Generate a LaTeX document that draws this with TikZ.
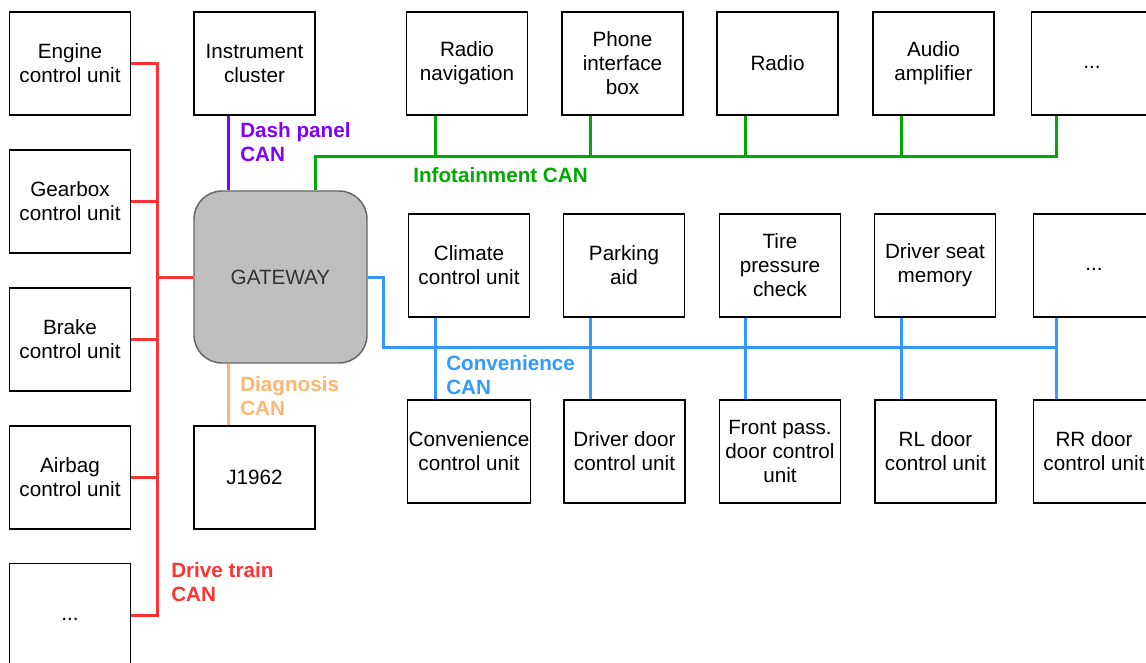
\documentclass[tikz,border=0pt]{standalone}
\usepackage{fontspec}
\setmainfont{Liberation Sans}
\usetikzlibrary{positioning}

\definecolor{drivered}{HTML}{FF3333}
\definecolor{dashviolet}{HTML}{7F00FF}
\definecolor{infogreen}{HTML}{00AA00}
\definecolor{convblue}{HTML}{3399FF}
\definecolor{diagorange}{HTML}{FFB570}
\definecolor{gwgrey}{HTML}{BFBFBF}

\begin{document}
\begin{tikzpicture}[x=0.75pt, y=-0.75pt, node distance={25.1pt},
    font=\fontsize{15.5}{18}\selectfont,
    ecu/.style = {draw, line width=1.1pt, minimum width=90.75pt, minimum height=77.25pt, align=center, inner sep=1pt},
    gate/.style = {draw=black!60, fill=gwgrey, line width=1.1pt, rounded corners=21pt, minimum width=129.75pt, minimum height=129pt, text=black!80},
    bus/.style = {line width=2.25pt},
    buslabel/.style = {font=\fontsize{15.5}{18}\selectfont\bfseries, align=left, anchor=west, inner sep=0pt}]
        \useasboundingbox (0,0) rectangle (1146,663);
        %% Drive train side
        \node[ecu] (engine) at (70,63.5) {Engine\\control unit};
        \node[ecu] (gearbox) [below=of engine] {Gearbox\\control unit};
        \node[ecu] (brake) [below=of gearbox] {Brake\\control unit};
        \node[ecu] (airbag) [below=of brake] {Airbag\\control unit};
        \node[ecu] (drivemore) [below=of airbag] {\strut...};
        %% Gateway and friends
        \node[ecu] (cluster) at (254.5,63.5) {Instrument\\cluster};
        \node[gate] (gateway) at (280.5,277) {GATEWAY};
        \node[ecu] (obd) at (254.5,477.5) {J1962};
        %% Infotainment row
        \node[ecu] (radionav) at (467,63.5) {Radio\\navigation};
        \node[ecu] (phonebox) at (622.5,63.5) {Phone\\interface\\box};
        \node[ecu] (radio) at (777.5,63.5) {Radio};
        \node[ecu] (amp) at (933.5,63.5) {Audio\\amplifier};
        \node[ecu] (infomore) at (1092,63.5) {\strut...};
        %% Convenience rows
        \node[ecu] (climate) at (469,265.5) {Climate\\control unit};
        \node[ecu] (parking) at (624,265.5) {Parking\\aid};
        \node[ecu] (tire) at (780,265.5) {Tire\\pressure\\check};
        \node[ecu] (seat) at (935,265.5) {Driver seat\\memory};
        \node[ecu] (convmore) at (1094,265.5) {\strut...};
        \node[ecu] (convcu) at (469,451.5) {Convenience\\control unit};
        \node[ecu] (drvdoor) at (624.5,451.5) {Driver door\\control unit};
        \node[ecu] (frontdoor) at (780,451.5) {Front pass.\\door control\\unit};
        \node[ecu] (rldoor) at (935.5,451.5) {RL door\\control unit};
        \node[ecu] (rrdoor) at (1094,451.5) {RR door\\control unit};
        %% Bus points
        \coordinate (dtbus) at (157,0);
        \coordinate (dashx) at (228,0);
        \coordinate (ib0) at (315,157);
        \coordinate (ib1) at (435,157);
        \coordinate (ib2) at (590,157);
        \coordinate (ib3) at (745,157);
        \coordinate (ib4) at (901,157);
        \coordinate (ib5) at (1056,157);
        \coordinate (cb0) at (383,347);
        \coordinate (cb1) at (435,347);
        \coordinate (cb2) at (590,347);
        \coordinate (cb3) at (745,347);
        \coordinate (cb4) at (901,347);
        \coordinate (cb5) at (1056,347);
        %% Drive train CAN
        \draw[bus, drivered] (engine.east) -| (dtbus |- drivemore.east) -- (drivemore.east);
        \draw[bus, drivered] (gearbox.east) -- (gearbox.east -| dtbus);
        \draw[bus, drivered] (brake.east) -- (brake.east -| dtbus);
        \draw[bus, drivered] (airbag.east) -- (airbag.east -| dtbus);
        \draw[bus, drivered] (gateway.west) -- (gateway.west -| dtbus);
        %% Dash panel and diagnosis CAN
        \draw[bus, dashviolet] (cluster.south -| dashx) -- (gateway.north -| dashx);
        \draw[bus, diagorange] (gateway.south -| dashx) -- (obd.north -| dashx);
        %% Infotainment CAN
        \draw[bus, infogreen] (gateway.north -| ib0) -- (ib0) -| (infomore.south -| ib5);
        \draw[bus, infogreen] (radionav.south -| ib1) -- (ib1);
        \draw[bus, infogreen] (phonebox.south -| ib2) -- (ib2);
        \draw[bus, infogreen] (radio.south -| ib3) -- (ib3);
        \draw[bus, infogreen] (amp.south -| ib4) -- (ib4);
        %% Convenience CAN
        \draw[bus, convblue] (gateway.east) -| (cb0) -- (cb5);
        \draw[bus, convblue] (climate.south -| cb1) -- (convcu.north -| cb1);
        \draw[bus, convblue] (parking.south -| cb2) -- (drvdoor.north -| cb2);
        \draw[bus, convblue] (tire.south -| cb3) -- (frontdoor.north -| cb3);
        \draw[bus, convblue] (seat.south -| cb4) -- (rldoor.north -| cb4);
        \draw[bus, convblue] (convmore.south -| cb5) -- (rrdoor.north -| cb5);
        %% Labels
        \node[buslabel, text=dashviolet] (dashlbl) at (240,142) {Dash panel\\CAN};
        \node[buslabel, text=infogreen] (infolbl) at (413,175) {Infotainment CAN};
        \node[buslabel, text=convblue] (convlbl) at (446,375) {Convenience\\CAN};
        \node[buslabel, text=diagorange] (diaglbl) at (240,396) {Diagnosis\\CAN};
        \node[buslabel, text=drivered] (drivelbl) at (171,582) {Drive train\\CAN};
    \end{tikzpicture}
\end{document}
